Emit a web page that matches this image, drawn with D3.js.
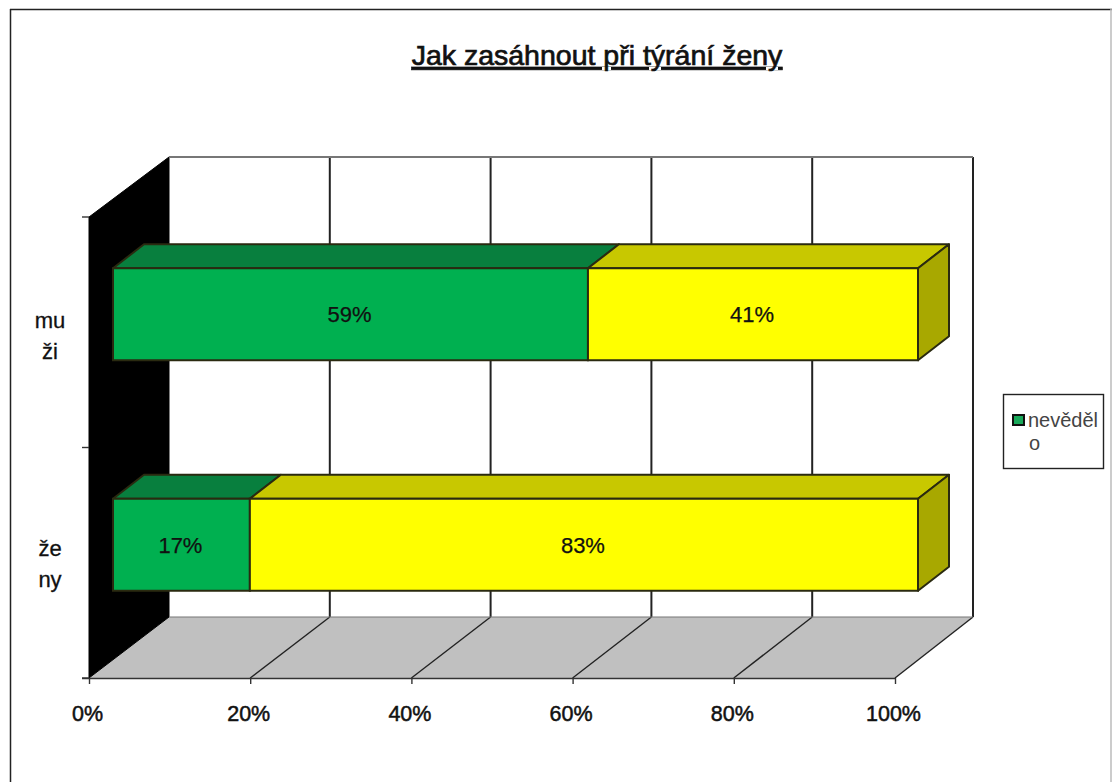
<!DOCTYPE html>
<html><head><meta charset="utf-8">
<script src="https://cdn.jsdelivr.net/npm/d3@7"></script>
<style>html,body{margin:0;padding:0;background:#fff}svg{display:block}text{font-family:"Liberation Sans",Arial,sans-serif;fill:#111}</style>
</head><body><svg id="c" width="1112" height="782"></svg>
<script>
const title = "Jak zasáhnout při týrání ženy";
const categories = ["muži", "ženy"];
const categoryLines = [["mu", "ži"], ["že", "ny"]];
const seriesGreen = [59, 17];
const seriesYellow = [41, 83];
const ticks = [0, 20, 40, 60, 80, 100];
const legendLines = ["nevěděl", "o"];

const svg = d3.select("#c");
// outer frame: dark left and top, faint right, none at the bottom
svg.append("line").attr("x1", 10.5).attr("x2", 10.5).attr("y1", 9).attr("y2", 782).attr("stroke", "#222").attr("stroke-width", 1.5);
svg.append("line").attr("x1", 10).attr("x2", 1112).attr("y1", 9.5).attr("y2", 9.5).attr("stroke", "#222").attr("stroke-width", 1.5);
svg.append("line").attr("x1", 1111).attr("x2", 1111).attr("y1", 9).attr("y2", 782).attr("stroke", "#bbb").attr("stroke-width", 1.5);

const pct = d3.scaleLinear().domain([0, 100]);
const xFront = pct.copy().range([89, 895]);
const xBack = pct.copy().range([169, 973]);
const xBar = pct.copy().range([113, 918]);
const yBand = d3.scaleBand().domain(categories).range([217, 678]);
const yT = 157, yF = 617, yB = 678, yFT = 217;
const barH = 92, barShift = -18, ddx = 31, ddy = -24;
const poly = (pts, fill, stroke, sw = 2) => svg.append("polygon").attr("points", pts.map(p => p.join(",")).join(" ")).attr("fill", fill).attr("stroke", stroke || "none").attr("stroke-width", sw).attr("stroke-linejoin", "round");

// back wall
svg.append("rect").attr("x", xBack(0)).attr("y", yT).attr("width", xBack(100) - xBack(0)).attr("height", yF - yT).attr("fill", "#fff");
// floor
poly([[xFront(0), yB], [xBack(0), yF], [xBack(100), yF], [xFront(100), yB]], "#c0c0c0");
// left wall
poly([[xFront(0), yFT], [xBack(0), yT], [xBack(0), yF], [xFront(0), yB]], "#000", "#000", 1);
// gridlines on back wall + floor
ticks.forEach(t => {
  if (t > 0) svg.append("line").attr("x1", xBack(t)).attr("x2", xBack(t)).attr("y1", yT).attr("y2", yF).attr("stroke", "#222").attr("stroke-width", 2);
  if (t > 0) svg.append("line").attr("x1", xFront(t)).attr("y1", yB).attr("x2", xBack(t)).attr("y2", yF).attr("stroke", "#222").attr("stroke-width", 1.4);
});
svg.append("line").attr("x1", xBack(0)).attr("x2", xBack(100)).attr("y1", yT).attr("y2", yT).attr("stroke", "#777").attr("stroke-width", 2);
svg.append("line").attr("x1", xBack(0)).attr("x2", xBack(100)).attr("y1", yF).attr("y2", yF).attr("stroke", "#777").attr("stroke-width", 1.2);

// axes
const axisG = svg.append("g").attr("transform", `translate(0,${yB})`).call(d3.axisBottom(xFront).tickValues(ticks).tickFormat(d => d + "%").tickSize(6).tickPadding(22));
axisG.selectAll("path,line").attr("stroke", "#333").attr("stroke-width", 1.4);
axisG.selectAll("text").attr("font-size", 21.5).attr("font-family", '"Liberation Sans",Arial,sans-serif').attr("fill", "#111").attr("stroke", "#111").attr("stroke-width", 0.5).attr("dx", -2);
axisG.select("path").attr("d", `M82,0.5H${xFront(100)}`);
[yBand.range()[0], yBand.range()[0] + yBand.step(), yBand.range()[1]].forEach(y => {
  svg.append("line").attr("x1", 82).attr("x2", 89).attr("y1", y).attr("y2", y).attr("stroke", "#333").attr("stroke-width", 1.4);
});

// bars
const stroke = "#2a2a10";
const catBase = [[328, 359], [556, 587]];
categories.forEach((c, i) => {
  const top = yBand(c) + yBand.bandwidth() / 2 + barShift - barH / 2, bot = top + barH;
  const segs = [
    { a: 0, b: seriesGreen[i], face: "#00b050", top_: "#087f3e" },
    { a: seriesGreen[i], b: seriesGreen[i] + seriesYellow[i], face: "#ffff00", top_: "#c8c800" }
  ];
  segs.forEach(s => {
    const x0 = xBar(s.a), x1 = xBar(s.b);
    poly([[x0, top], [x0 + ddx, top + ddy], [x1 + ddx, top + ddy], [x1, top]], s.top_, stroke);
    svg.append("rect").attr("x", x0).attr("y", top).attr("width", x1 - x0).attr("height", barH).attr("fill", s.face).attr("stroke", stroke).attr("stroke-width", 2);
    svg.append("text").attr("x", (x0 + x1) / 2 - 1).attr("y", top + barH / 2 + 8).attr("text-anchor", "middle").attr("font-size", 22).attr("stroke", "#111").attr("stroke-width", 0.25).text(s.b - s.a + "%");
  });
  const xe = xBar(100);
  poly([[xe, top], [xe + ddx, top + ddy], [xe + ddx, bot + ddy], [xe, bot]], "#a8a800", stroke);
  categoryLines[i].forEach((t, j) => {
    svg.append("text").attr("x", 50).attr("y", catBase[i][j]).attr("text-anchor", "middle").attr("font-size", 22).attr("stroke", "#111").attr("stroke-width", 0.3).text(t);
  });
});

// title
svg.append("text").attr("x", 597).attr("y", 65).attr("text-anchor", "middle").attr("font-size", 28.5).attr("stroke", "#111").attr("stroke-width", 0.7).attr("text-decoration", "underline").text(title);

// legend
svg.append("rect").attr("x", 1003.5).attr("y", 394.5).attr("width", 100).attr("height", 74).attr("fill", "#fff").attr("stroke", "#222").attr("stroke-width", 1.4);
svg.append("rect").attr("x", 1013).attr("y", 415).attr("width", 11).attr("height", 10).attr("fill", "#19a95a").attr("stroke", "#111").attr("stroke-width", 2);
legendLines.forEach((t, j) => svg.append("text").attr("x", j ? 1029 : 1028).attr("y", 427 + j * 23).attr("font-size", 20).style("fill", "#444").text(t));
</script></body></html>
